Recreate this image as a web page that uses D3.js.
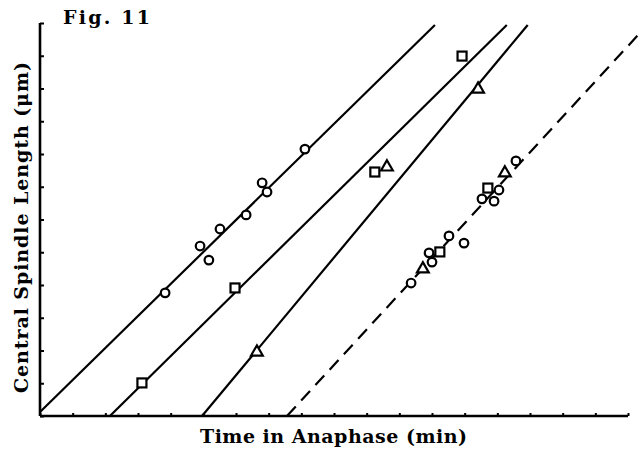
<!DOCTYPE html>
<html>
<head>
<meta charset="utf-8">
<script src="https://cdn.jsdelivr.net/npm/d3@7"></script>
<style>
	body { margin: 0; background: #fff; }
	text { font-family: "DejaVu Serif", serif; font-weight: bold; fill: #000; }
</style>
</head>
<body>
<div id="chart"></div>
<script>
// Fig. 11 - central spindle length vs time in anaphase
// axes carry ticks only, no numbers, so the units below are tick steps

var xTicks = d3.range(0, 19);
var yTicks = d3.range(0, 13);

// fitted lines, [x0, y0, x1, y1]
var lineA = [0, 0.12, 12.09, 11.94];
var lineB = [2.14, 0, 14.29, 11.94];
var lineC = [4.96, 0, 14.93, 11.94];
var lineD = [7.56, 0, 18.37, 11.7];

// measured cells
var circles = [
	[3.83, 3.76], [4.90, 5.19], [5.17, 4.76], [5.51, 5.71], [6.31, 6.14],
	[6.80, 7.12], [6.95, 6.84], [8.11, 8.15],
	[11.36, 4.06], [12.00, 4.70], [11.91, 4.98], [12.52, 5.50], [12.98, 5.28],
	[13.53, 6.63], [13.90, 6.56], [14.05, 6.90], [14.57, 7.79]
];
var squares = [
	[3.12, 1.01], [5.97, 3.91], [10.25, 7.45], [12.92, 10.99],
	[12.24, 5.01], [13.71, 6.96]
];
var triangles = [
	[6.64, 1.95], [10.62, 7.60], [13.41, 9.98],
	[11.72, 4.49], [14.23, 7.42]
];

var width = 642, height = 453;
var margin = {left: 40, right: 14, top: 23, bottom: 37};

var svg = d3.select("#chart").append("svg")
	.attr("width", width)
	.attr("height", height);

var x = d3.scaleLinear()
	.domain([0, 18])
	.range([margin.left, width - margin.right]);
var y = d3.scaleLinear()
	.domain([0, 12])
	.range([height - margin.bottom, margin.top]);

// fit lines
var fits = [lineA, lineB, lineC, lineD];
svg.append("g").selectAll("line")
	.data(fits)
	.enter().append("line")
	.attr("x1", function (d) { return x(d[0]); })
	.attr("y1", function (d) { return y(d[1]); })
	.attr("x2", function (d) { return x(d[2]); })
	.attr("y2", function (d) { return y(d[3]); })
	.attr("stroke", "#000")
	.attr("stroke-width", 2.2)
	.attr("stroke-dasharray", function (d, i) { return i == 3 ? "13,8" : null; });

// axes, ticks pointing inward
svg.append("g")
	.attr("transform", "translate(0," + y(0) + ")")
	.call(d3.axisTop(x).tickValues(xTicks).tickSize(3).tickFormat(""))
	.call(function (g) {
		g.select(".domain").attr("stroke-width", 2.6).attr("d", "M" + x(0) + ",0H" + x(18));
		g.selectAll(".tick line").attr("stroke-width", 2);
	});
svg.append("g")
	.attr("transform", "translate(" + x(0) + ",0)")
	.call(d3.axisRight(y).tickValues(yTicks).tickSize(4).tickFormat(""))
	.call(function (g) {
		g.select(".domain").attr("stroke-width", 2.6).attr("d", "M0," + y(0) + "V" + y(12));
		g.selectAll(".tick line").attr("stroke-width", 2);
	});

// markers
var marks = svg.append("g")
	.attr("fill", "#fff")
	.attr("stroke", "#000")
	.attr("stroke-width", 2.2);

marks.selectAll("circle")
	.data(circles)
	.enter().append("circle")
	.attr("cx", function (d) { return x(d[0]); })
	.attr("cy", function (d) { return y(d[1]); })
	.attr("r", 4.3);

marks.selectAll("rect")
	.data(squares)
	.enter().append("rect")
	.attr("x", function (d) { return x(d[0]) - 4.5; })
	.attr("y", function (d) { return y(d[1]) - 4.5; })
	.attr("width", 9)
	.attr("height", 9);

var tri = d3.symbol().type(d3.symbolTriangle).size(60);
marks.selectAll("path.tri")
	.data(triangles)
	.enter().append("path")
	.attr("class", "tri")
	.attr("d", tri)
	.attr("transform", function (d) { return "translate(" + x(d[0]) + "," + y(d[1]) + ")"; });

// texts, stretched to the typewriter widths of the original
svg.append("text")
	.attr("x", 63)
	.attr("y", 24)
	.attr("font-size", 19)
	.attr("textLength", 87)
	.attr("lengthAdjust", "spacing")
	.text("Fig. 11");

svg.append("text")
	.attr("x", 200)
	.attr("y", 443)
	.attr("font-size", 19)
	.attr("textLength", 267)
	.attr("lengthAdjust", "spacing")
	.text("Time in Anaphase (min)");

svg.append("text")
	.attr("transform", "translate(28,393) rotate(-90)")
	.attr("font-size", 19)
	.attr("textLength", 331)
	.attr("lengthAdjust", "spacing")
	.text("Central Spindle Length (\u03bcm)");
</script>
</body>
</html>
